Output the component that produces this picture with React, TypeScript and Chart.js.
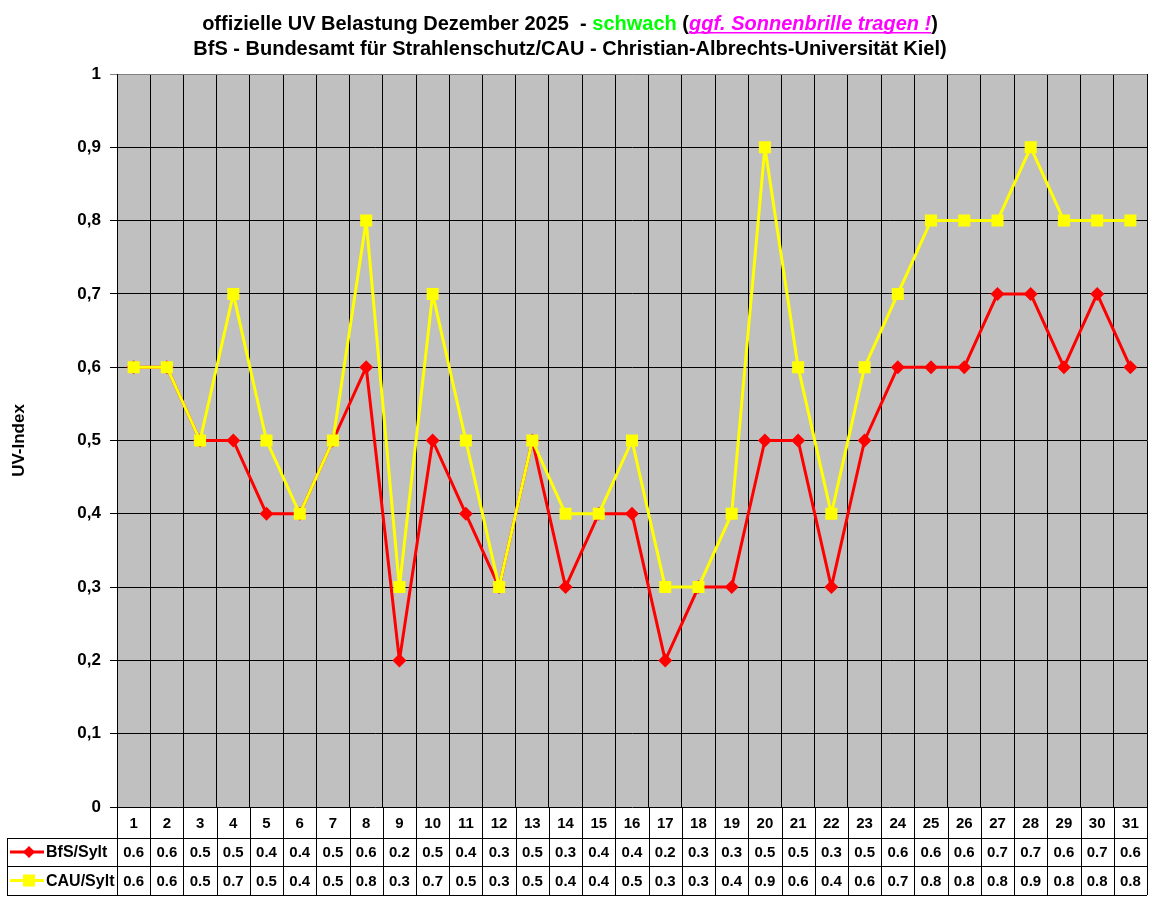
import React, { useEffect, useRef } from 'react';
import { Chart, registerables } from 'chart.js';

Chart.register(...registerables);

// days of December 2025
const days = Array.from({ length: 31 }, (_, i) => String(i + 1));

const bfsLabel = 'BfS/Sylt';
const bfsValues = [0.6, 0.6, 0.5, 0.5, 0.4, 0.4, 0.5, 0.6, 0.2, 0.5, 0.4, 0.3, 0.5, 0.3, 0.4, 0.4, 0.2, 0.3, 0.3, 0.5, 0.5, 0.3, 0.5, 0.6, 0.6, 0.6, 0.7, 0.7, 0.6, 0.7, 0.6];

const cauLabel = 'CAU/Sylt';
const cauValues = [0.6, 0.6, 0.5, 0.7, 0.5, 0.4, 0.5, 0.8, 0.3, 0.7, 0.5, 0.3, 0.5, 0.4, 0.4, 0.5, 0.3, 0.3, 0.4, 0.9, 0.6, 0.4, 0.6, 0.7, 0.8, 0.8, 0.8, 0.9, 0.8, 0.8, 0.8];

const yTitle = 'UV-Index';

// title pieces (text, colour, italic+underline)
const titleLine1: [string, string, boolean][] = [
  ['offizielle UV Belastung Dezember 2025  - ', '#000000', false],
  ['schwach', '#00FF00', false],
  [' (', '#000000', false],
  ['ggf. Sonnenbrille tragen !', '#FF00FF', true],
  [')', '#000000', false],
];
const titleLine2 = 'BfS - Bundesamt für Strahlenschutz/CAU - Christian-Albrechts-Universität Kiel)';

const FONT = '"Liberation Sans", Arial, sans-serif';

const plotBg = {
  id: 'plotBg',
  beforeDraw(chart: any) {
    const { ctx, chartArea: a } = chart;
    ctx.save();
    ctx.fillStyle = '#C0C0C0';
    ctx.fillRect(a.left, a.top, a.right - a.left, a.bottom - a.top);
    ctx.restore();
  },
};

const titleAndTable = {
  id: 'titleAndTable',
  afterDraw(chart: any) {
    const { ctx, chartArea: a } = chart;
    ctx.save();

    // title
    ctx.textBaseline = 'alphabetic';
    ctx.textAlign = 'left';
    const cx = 570;
    const normal = `bold 20px ${FONT}`;
    const ital = `italic bold 20px ${FONT}`;
    let total = 0;
    titleLine1.forEach(([t, , it]) => {
      ctx.font = it ? ital : normal;
      total += ctx.measureText(t).width;
    });
    let x = cx - total / 2;
    titleLine1.forEach(([t, col, it]) => {
      ctx.font = it ? ital : normal;
      const w = ctx.measureText(t).width;
      ctx.fillStyle = col;
      ctx.fillText(t, x, 30);
      if (it) {
        ctx.fillRect(x, 32, w, 1.5);
      }
      x += w;
    });
    ctx.font = normal;
    ctx.fillStyle = '#000';
    ctx.textAlign = 'center';
    ctx.fillText(titleLine2, cx, 55);

    // data table
    const xs = chart.scales.x;
    const n = days.length;
    const half = (xs.getPixelForValue(1) - xs.getPixelForValue(0)) / 2;
    const y0 = a.bottom;
    const y1 = y0 + 31;
    const y2 = y1 + 28;
    const y3 = y2 + 29;
    const legLeft = 7;

    ctx.strokeStyle = '#000';
    ctx.lineWidth = 1;
    ctx.beginPath();
    for (let i = 0; i <= n; i++) {
      const bx = Math.round(xs.getPixelForValue(i) - half) + 0.5;
      ctx.moveTo(bx, y0);
      ctx.lineTo(bx, y3);
    }
    [y1, y2, y3].forEach((yy) => {
      ctx.moveTo(legLeft, Math.round(yy) + 0.5);
      ctx.lineTo(a.right, Math.round(yy) + 0.5);
    });
    ctx.moveTo(legLeft + 0.5, y1);
    ctx.lineTo(legLeft + 0.5, y3);
    ctx.stroke();

    ctx.font = `bold 15px ${FONT}`;
    ctx.fillStyle = '#000';
    ctx.textAlign = 'center';
    ctx.textBaseline = 'middle';
    for (let i = 0; i < n; i++) {
      const px = xs.getPixelForValue(i);
      ctx.fillText(days[i], px, (y0 + y1) / 2 + 1);
      ctx.fillText(bfsValues[i].toFixed(1), px, (y1 + y2) / 2 + 1);
      ctx.fillText(cauValues[i].toFixed(1), px, (y2 + y3) / 2 + 1);
    }

    // legend keys
    const drawKey = (yy: number, color: string, square: boolean, label: string) => {
      ctx.strokeStyle = color;
      ctx.lineWidth = 3;
      ctx.beginPath();
      ctx.moveTo(legLeft + 3, yy);
      ctx.lineTo(legLeft + 37, yy);
      ctx.stroke();
      ctx.fillStyle = color;
      const mx = legLeft + 22;
      if (square) {
        ctx.fillRect(mx - 6, yy - 6, 12, 12);
      } else {
        ctx.beginPath();
        ctx.moveTo(mx, yy - 6);
        ctx.lineTo(mx + 6, yy);
        ctx.lineTo(mx, yy + 6);
        ctx.lineTo(mx - 6, yy);
        ctx.closePath();
        ctx.fill();
      }
      ctx.fillStyle = '#000';
      ctx.textAlign = 'left';
      ctx.font = `bold 16px ${FONT}`;
      ctx.fillText(label, legLeft + 39, yy + 1);
    };
    drawKey((y1 + y2) / 2, '#FF0000', false, bfsLabel);
    drawKey((y2 + y3) / 2, '#FFFF00', true, cauLabel);

    ctx.restore();
  },
};

const App = () => {
  const canvasRef = useRef<HTMLCanvasElement | null>(null);

  useEffect(() => {
    if (!canvasRef.current) return;
    const chart = new Chart(canvasRef.current, {
      type: 'line',
      data: {
        labels: days,
        datasets: [
          {
            label: bfsLabel,
            data: bfsValues,
            borderColor: '#FF0000',
            backgroundColor: '#FF0000',
            borderWidth: 3,
            borderJoinStyle: 'round',
            pointStyle: 'rectRot',
            pointRadius: 7,
            pointBorderWidth: 0,
            tension: 0,
            order: 2,
          },
          {
            label: cauLabel,
            data: cauValues,
            borderColor: '#FFFF00',
            backgroundColor: '#FFFF00',
            borderWidth: 3,
            borderJoinStyle: 'round',
            pointStyle: 'rect',
            pointRadius: 8.5,
            pointBorderWidth: 0,
            tension: 0,
            order: 1,
          },
        ],
      },
      options: {
        animation: false,
        responsive: true,
        maintainAspectRatio: false,
        layout: { autoPadding: false, padding: { top: 74, bottom: 93, right: 5, left: 0 } },
        plugins: {
          legend: { display: false },
          tooltip: { enabled: false },
        },
        scales: {
          x: {
            type: 'category',
            offset: true,
            grid: { offset: true, color: '#000', lineWidth: 1, drawTicks: false },
            border: { display: false },
            ticks: { display: false },
            afterFit: (s: any) => { s.height = 0; },
          },
          y: {
            min: 0,
            max: 1,
            border: { display: true, color: '#000', width: 1 },
            grid: {
              color: (c: any) => (c.tick && c.tick.value === 1 ? '#808080' : '#000'),
              lineWidth: 1,
              tickLength: 7,
            },
            ticks: {
              stepSize: 0.1,
              padding: 9,
              color: '#000',
              font: { family: FONT, size: 17, weight: 'bold' },
              callback: (v: any) => {
                const r = Math.round(Number(v) * 10) / 10;
                if (r === 0) return '0';
                if (r === 1) return '1';
                return r.toFixed(1).replace('.', ',');
              },
            },
            title: {
              display: true,
              text: yTitle,
              color: '#000',
              font: { family: FONT, size: 17, weight: 'bold' },
              padding: { top: 9, bottom: 0 },
            },
            afterFit: (s: any) => { s.width = 117; },
          },
        },
      },
      plugins: [plotBg, titleAndTable],
    });
    return () => chart.destroy();
  }, []);

  return (
    <div style={{ position: 'absolute', left: 0, top: 0, width: 1152, height: 900, background: '#fff' }}>
      <canvas ref={canvasRef}></canvas>
    </div>
  );
};

export default App;
